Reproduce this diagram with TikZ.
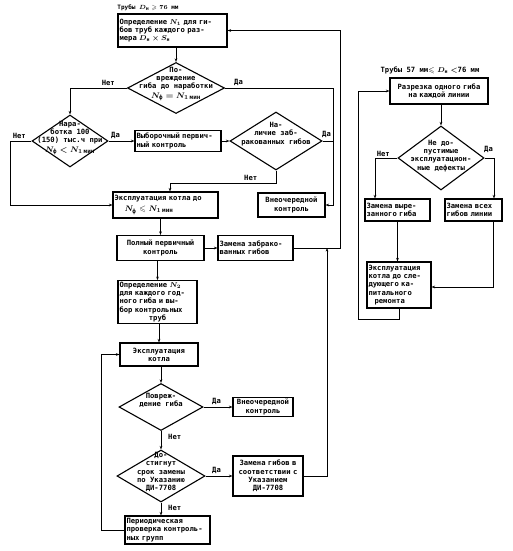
\documentclass[tikz,border=0pt]{standalone}
\usepackage{amsmath,amssymb}
\usepackage{fontspec}
\setmainfont{DejaVu Sans Mono}
\usetikzlibrary{shapes.geometric,arrows.meta}
\newcommand\dfont{\fontsize{7.2}{8.2}\selectfont\bfseries\boldmath}
\newcommand\dmathbig[1]{{\fontsize{8.5}{8.5}\selectfont$#1$}}
\tikzset{
  box/.style={draw, line width=1.1pt, inner sep=1.5pt, font=\dfont, align=left},
  cbox/.style={box, align=center},
  dia/.style={draw, diamond, line width=1.1pt, inner sep=0pt},
  dtext/.style={font=\dfont, align=center, inner sep=0pt},
  lbl/.style={font=\dfont, inner sep=0pt},
  con/.style={line width=0.8pt},
  arr/.style={con, -{Stealth[length=3.5pt,width=2.6pt]}},
}
\begin{document}
\begin{tikzpicture}[x=1pt,y=-1pt]
\useasboundingbox (0,0) rectangle (512,551);
% ---------- left chart ----------
\node[lbl, font=\fontsize{6}{7}\selectfont\bfseries\boldmath] (t1) at (148,8) {Трубы $D_{\text{н}}\geqslant 76$ мм};
\node[box, text width=106pt, minimum height=33pt] (b1) at (172.5,30.5)
  {Определение $N_1$ для ги-\\бов труб каждого раз-\\мера $D_{\text{н}}\times S_{\text{н}}$};
\node[dia, minimum width=97pt, minimum height=51pt] (d1) at (176,88) {};
\node[dtext] (d1t) at (176,84) {По-\\вреждение\\гиба до наработки\\[1.5pt]\dmathbig{N_{\text{ф}}=N_{1\,\text{мин}}}};
\node[dia, minimum width=76pt, minimum height=52pt] (d2) at (70,141) {};
\node[dtext] (d2t) at (70,138) {Нара-\\ботка 100\\(150) тыс.ч при\\[1.5pt]\dmathbig{N_{\text{ф}}<N_{1\,\text{мин}}}};
\node[box, text width=83pt, minimum height=21pt] (b2) at (178,141)
  {Выборочный первич-\\ный контроль};
\node[dia, minimum width=92pt, minimum height=58pt] (d3) at (276,141) {};
\node[dtext] (d3t) at (276,134) {На-\\личие заб-\\ракованных гибов};
\node[box, text width=102pt, minimum height=26pt] (b3) at (165.5,205)
  {Эксплуатация котла до\\[2.5pt]\hspace*{10pt}\dmathbig{N_{\text{ф}}\leqslant N_{1\,\text{мин}}}};
\node[cbox, text width=64pt, minimum height=24pt] (vk1) at (291.5,205)
  {Внеочередной\\контроль};
\node[cbox, text width=84pt, minimum height=25pt] (b4) at (160.5,248)
  {Полный первичный\\контроль};
\node[box, text width=72pt, minimum height=25pt] (zam1) at (255.5,248)
  {Замена забрако-\\ванных гибов};
\node[box, text width=76pt, minimum height=41pt] (b5) at (157.5,302)
  {Определение $N_2$\\для каждого год-\\ного гиба и вы-\\бор контрольных\\\makebox[\linewidth][c]{труб}};
\node[cbox, text width=75pt, minimum height=23pt] (b6) at (159,354.5)
  {Эксплуатация\\котла};
\node[dia, minimum width=84pt, minimum height=47pt] (d4) at (161,407) {};
\node[dtext] (d4t) at (161,400) {Повреж-\\дение гиба};
\node[cbox, text width=57pt, minimum height=17pt] (vk2) at (263,407)
  {Внеочередной\\контроль};
\node[dia, minimum width=88pt, minimum height=52pt] (d5) at (161,476) {};
\node[dtext] (d5t) at (161,472) {До-\\стигнут\\срок замены\\по Указанию\\ДИ-7708};
\node[cbox, text width=67pt, minimum height=40pt] (zam2) at (268,476)
  {Замена гибов в\\соответствии с\\Указанием\\ДИ-7708};
\node[box, text width=82pt, minimum height=28pt] (b9) at (167.5,530)
  {Периодическая\\проверка контроль-\\ных групп};
% labels
\node[lbl, anchor=south east] (n1) at (115,86) {Нет};
\node[lbl, anchor=south west] (y1) at (234,86) {Да};
\node[lbl, anchor=south east] (n2) at (26,139) {Нет};
\node[lbl, anchor=south west] (y2) at (111,139) {Да};
\node[lbl, anchor=south west] (y3) at (322,138) {Да};
\node[lbl, anchor=south west] (n3) at (244,181) {Нет};
\node[lbl, anchor=south west] (y4) at (212,405) {Да};
\node[lbl, anchor=west] (n4) at (168,437) {Нет};
\node[lbl, anchor=south west] (y5) at (212,474) {Да};
\node[lbl, anchor=west] (n5) at (168,508) {Нет};
% junction coordinates
\coordinate (jA) at (333,0);
\coordinate (jB) at (10,0);
\coordinate (jC) at (170,183);
\coordinate (jD) at (340,0);
\coordinate (jE) at (327,0);
\coordinate (jF) at (101,0);
% connectors
\draw[arr] (d1.north |- b1.south) -- (d1.north);
\draw[arr] (d1.west) -| (d2.north);
\draw[arr] (d1.east) -- (d1.east -| jA) -- (jA |- vk1.east) -- (vk1.east);
\draw[con] (d3.east) -- (d3.east -| jA);
\draw[arr] (d2.west) -- (d2.west -| jB) -- (jB |- b3.west) -- (b3.west);
\draw[arr] (d2.east) -- (b2.west);
\draw[arr] (b2.east) -- (d3.west);
\draw[arr] (d3.south) |- (jC) -- (jC |- b3.north);
\draw[arr] (b4.north |- b3.south) -- (b4.north);
\draw[arr] (b4.east) -- (zam1.west);
\draw[arr] (zam1.east) -- (zam1.east -| jD) -- (jD |- b1.east) -- (b1.east);
\draw[arr] (zam2.east) -- (zam2.east -| jE) -- (jE |- zam1.east);
\draw[arr] (b5.north |- b4.south) -- (b5.north);
\draw[arr] (b6.north |- b5.south) -- (b6.north);
\draw[arr] (d4.north |- b6.south) -- (d4.north);
\draw[arr] (d4.east) -- (vk2.west);
\draw[arr] (d4.south) -- (d5.north);
\draw[arr] (d5.east) -- (zam2.west);
\draw[arr] (d5.south) -- (d5.south |- b9.north);
\draw[arr] (b9.west) -- (b9.west -| jF) -- (jF |- b6.west) -- (b6.west);
% ---------- right chart ----------
\node[lbl] (t2) at (430,70) {Трубы 57 мм$\leqslant D_{\text{н}}<$76 мм};
\node[cbox, text width=95pt, minimum height=26pt] (R1) at (439,91)
  {Разрезка одного гиба\\на каждой линии};
\node[dia, minimum width=86pt, minimum height=64pt] (dR) at (441,158) {};
\node[dtext] (dRt) at (441,156) {Не до-\\пустимые\\эксплуатацион-\\ные дефекты};
\node[box, text width=62pt, minimum height=22pt] (RL) at (397.5,210)
  {Замена выре-\\занного гиба};
\node[box, text width=54pt, minimum height=22pt] (RR) at (473.5,210)
  {Замена всех\\гибов линии};
\node[box, text width=61pt, minimum height=46pt] (R4) at (399,285)
  {Эксплуатация\\котла до сле-\\дующего ка-\\питального\\\hspace*{6pt}ремонта};
\node[lbl, anchor=south east] (nR) at (390,157) {Нет};
\node[lbl, anchor=south west] (yR) at (484,153) {Да};
\coordinate (jG) at (375,0);
\coordinate (jH) at (494,0);
\coordinate (jJ) at (493,287);
\coordinate (jK) at (358,319);
\draw[arr] (dR.north |- R1.south) -- (dR.north);
\draw[arr] (dR.west) -- (dR.west -| jG) -- (jG |- RL.north);
\draw[arr] (dR.east) -- (dR.east -| jH) -- (jH |- RR.north);
\draw[arr] (RL.south) -- (RL.south |- R4.north);
\draw[arr] (jJ |- RR.south) -- (jJ) -- (jJ -| R4.east);
\draw[arr] (R4.south) -- (R4.south |- jK) -- (jK) -- (jK |- R1.west) -- (R1.west);
\end{tikzpicture}
\end{document}
